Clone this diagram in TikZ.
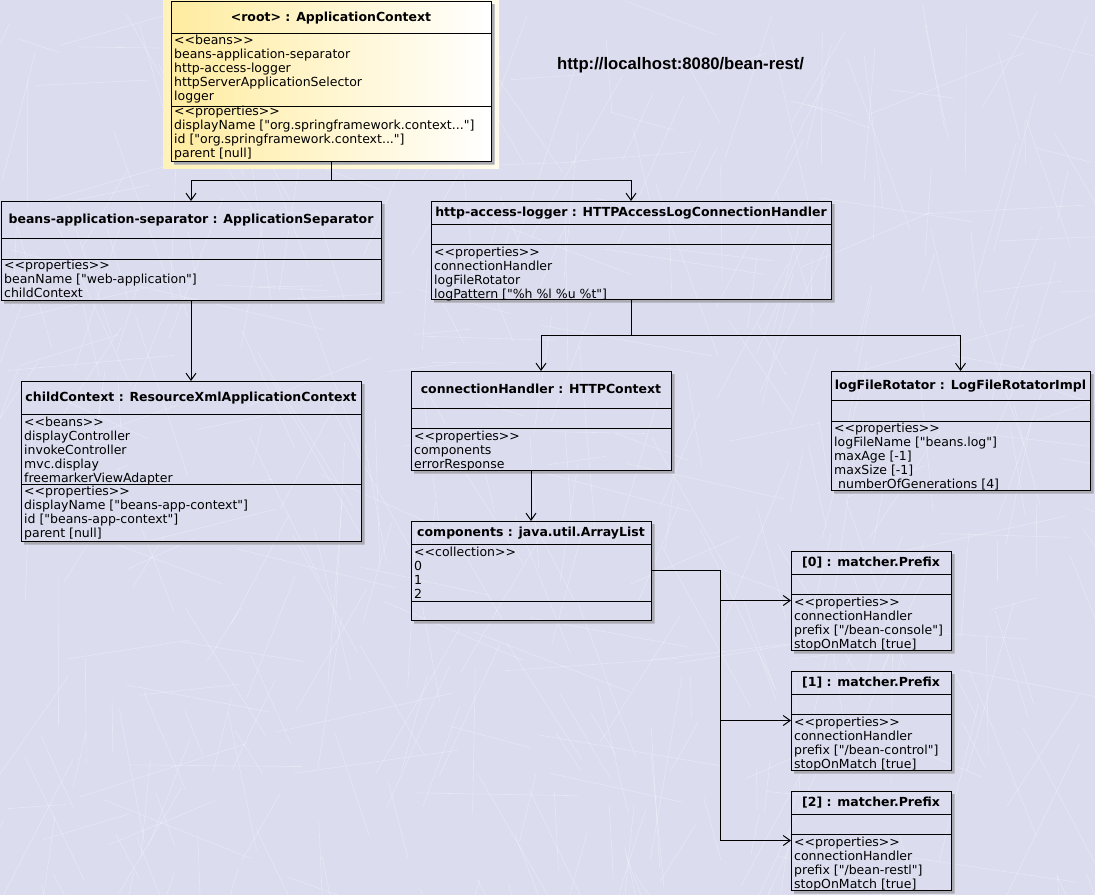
\documentclass[tikz,border=0pt]{standalone}
\usepackage{fontspec}
\newfontfamily\umlfont{DejaVu Sans}[Ligatures=TeXOff]
\newfontfamily\urlfont{Liberation Sans}[Ligatures=TeXOff]
\usetikzlibrary{arrows.meta}
\pgfdeclarelayer{back}
\pgfsetlayers{back,main}

\definecolor{canvas}{RGB}{219,221,239}
\definecolor{boxshadow}{RGB}{170,170,178}
\definecolor{rootyellow}{RGB}{255,236,160}
\definecolor{glowleft}{RGB}{255,242,185}
\definecolor{glowright}{RGB}{255,251,236}

\tikzset{
  objbox/.style={draw=black, line width=1pt, rectangle, inner sep=0pt, outer sep=0pt, anchor=north west},
  title/.style={font=\umlfont\bfseries\fontsize{12.5}{14}\selectfont, anchor=base, inner sep=0pt},
  entry/.style={font=\umlfont\fontsize{12.5}{14}\selectfont, anchor=base west, inner sep=0pt},
  link/.style={line width=1pt, -{Straight Barb[length=7pt,width=10pt,line width=1pt]}},
  wire/.style={line width=1pt},
  crack/.style={white, opacity=0.3, line width=0.6pt},
}

% truncation mark in shortened values
\newcommand\trunc{...}
% box: name, left, top, width, height
\newcommand\objbox[5]{\node[objbox, minimum width=#4pt, minimum height=#5pt] (#1) at (#2,#3) {};}
% compartment divider at a given depth below the top edge
\newcommand\compsep[2]{\draw[wire] ([yshift=-#2pt]#1.north west) -- ([yshift=-#2pt]#1.north east);}
% L-shaped drop shadow along the right and bottom edges
\newcommand\castshadow[1]{\begin{pgfonlayer}{back}
  \fill[boxshadow] ([shift={(0.5pt,-3pt)}]#1.north east) -- ([shift={(3.5pt,-3pt)}]#1.north east)
    -- ([shift={(3.5pt,-3.5pt)}]#1.south east) -- ([shift={(3pt,-3.5pt)}]#1.south west)
    -- ([shift={(3pt,-0.5pt)}]#1.south west) -- ([shift={(0.5pt,-0.5pt)}]#1.south east) -- cycle;
\end{pgfonlayer}}
% list of compartment lines: prefix, x, first baseline, items
\newcommand\entries[4]{\foreach \t [count=\k] in {#4} {\node[entry] (#1-\k) at (#2,{#3+1.2+14*(\k-1)}) {\t};}}

\begin{document}
\begin{tikzpicture}[x=1pt,y=-1pt]
\useasboundingbox (0,0) rectangle (1095,895);

% canvas with a light crackle texture
\begin{pgfonlayer}{back}
  \fill[canvas] (0,0) rectangle (1095,895);
  \begin{scope}
    \clip (0,0) rectangle (1095,895);
    \pgfmathsetseed{4711}
    \foreach \i in {1,...,420} {
      \pgfmathsetmacro\xa{rnd*1095}
      \pgfmathsetmacro\ya{rnd*895}
      \pgfmathsetmacro\an{rnd<0.75 ? 55+rnd*70 : -25+rnd*50}
      \pgfmathsetmacro\ln{40+rnd*150}
      \draw[crack] (\xa,\ya) -- ++(\an:\ln);
    }
  \end{scope}
  % highlight behind the root context
  \fill[left color=glowleft, right color=glowright] (163,-2) rectangle (499,168);
\end{pgfonlayer}

% ---- objects ----
\node[objbox, minimum width=320pt, minimum height=160pt, left color=rootyellow, right color=white] (root) at (171,1) {};
\compsep{root}{32.5}\compsep{root}{105}
\node[title] (root-t) at (331,21) {<root> : ApplicationContext};
\entries{root-b}{174}{43.3}{{<<beans>>},{beans-application-separator},{http-access-logger},{httpServerApplicationSelector},{logger}}
\entries{root-p}{174}{114.5}{{<<properties>>},{displayName ["org.springframework.context\trunc"]},{id ["org.springframework.context\trunc"]},{parent [null]}}

\objbox{sep}{1}{201}{380}{99}
\compsep{sep}{37}\compsep{sep}{58}
\node[title] (sep-t) at (191,223) {beans-application-separator : ApplicationSeparator};
\entries{sep-p}{4}{268.5}{{<<properties>>},{beanName ["web-application"]},{childContext}}

\objbox{http}{431}{201}{400}{98}
\compsep{http}{23}\compsep{http}{43}
\node[title] (http-t) at (631,216) {http-access-logger : HTTPAccessLogConnectionHandler};
\entries{http-p}{434}{255}{{<<properties>>},{connectionHandler},{logFileRotator},{logPattern ["\%h \%l \%u \%t"]}}

\objbox{child}{21}{381}{340}{160}
\compsep{child}{33}\compsep{child}{103}
\node[title] (child-t) at (191,401) {childContext : ResourceXmlApplicationContext};
\entries{child-b}{24}{425}{{<<beans>>},{displayController},{invokeController},{mvc.display},{freemarkerViewAdapter}}
\entries{child-p}{24}{494.5}{{<<properties>>},{displayName ["beans-app-context"]},{id ["beans-app-context"]},{parent [null]}}

\objbox{conn}{411}{371}{260}{99}
\compsep{conn}{37}\compsep{conn}{57}
\node[title] (conn-t) at (541,393.3) {connectionHandler : HTTPContext};
\entries{conn-p}{414}{439}{{<<properties>>},{components},{errorResponse}}

\objbox{lfr}{831}{371}{259}{119}
\compsep{lfr}{29}\compsep{lfr}{50}
\node[title] (lfr-t) at (960.5,389.3) {logFileRotator : LogFileRotatorImpl};
\entries{lfr-p}{834}{431}{{<<properties>>},{logFileName ["beans.log"]},{maxAge [-1]},{maxSize [-1]},{\ numberOfGenerations [4]}}

\objbox{comp}{411}{521}{240}{99}
\compsep{comp}{23}\compsep{comp}{80}
\node[title] (comp-t) at (531,536) {components : java.util.ArrayList};
\entries{comp-c}{414}{555}{{<<collection>>},{0},{1},{2}}

\objbox{p0}{791}{551}{160}{99}
\compsep{p0}{23}\compsep{p0}{43}
\node[title] (p0-t) at (871,566) {[0] : matcher.Prefix};
\entries{p0-p}{794}{605}{{<<properties>>},{connectionHandler},{prefix ["/bean-console"]},{stopOnMatch [true]}}

\objbox{p1}{791}{671}{160}{99}
\compsep{p1}{23}\compsep{p1}{43}
\node[title] (p1-t) at (871,686) {[1] : matcher.Prefix};
\entries{p1-p}{794}{725}{{<<properties>>},{connectionHandler},{prefix ["/bean-control"]},{stopOnMatch [true]}}

\objbox{p2}{791}{791}{160}{99}
\compsep{p2}{23}\compsep{p2}{43}
\node[title] (p2-t) at (871,806) {[2] : matcher.Prefix};
\entries{p2-p}{794}{845}{{<<properties>>},{connectionHandler},{prefix ["/bean-restl"]},{stopOnMatch [true]}}

\foreach \n in {root,sep,http,child,conn,lfr,comp,p0,p1,p2} {\castshadow{\n}}

% service address
\node[font=\urlfont\bfseries\fontsize{16.7}{18}\selectfont, anchor=base west, inner sep=0pt] (url) at (557,69.3) {http://localhost:8080/bean-rest/};

% ---- references ----
\coordinate (j1) at (331,180);
\coordinate (j2) at (631,335);
\coordinate (j3) at (720.5,570.5);
\draw[wire] (root.south) -- (j1);
\draw[link] (j1) -| (sep.north);
\draw[link] (j1) -| (http.north);
\draw[link] (sep.south) -- (child.north);
\draw[wire] (http.south) -- (j2);
\draw[link] (j2) -| (conn.north);
\draw[link] (j2) -| (lfr.north);
\draw[link] (comp.north |- conn.south) -- (comp.north);
\draw[wire] (comp.east) -- (j3);
\draw[link] (j3) |- (p0.west);
\draw[link] (j3) |- (p1.west);
\draw[link] (j3) |- (p2.west);
\end{tikzpicture}
\end{document}
